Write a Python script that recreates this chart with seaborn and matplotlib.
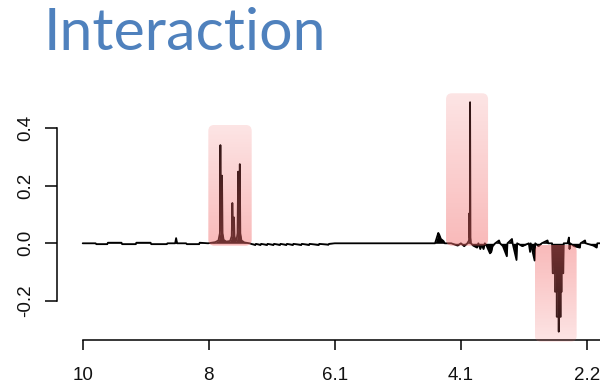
import numpy as np
import pandas as pd
import matplotlib
matplotlib.use("Agg")
import matplotlib.pyplot as plt
from matplotlib.patches import FancyBboxPatch
import seaborn as sns

# ---------------- data ----------------
title = "Interaction"

ppm = [
    10.00, 9.80, 9.79, 9.62, 9.61, 9.40, 9.39, 9.18, 9.17, 8.95, 8.94, 8.70,
    8.69, 8.57, 8.555, 8.54, 8.40, 8.39, 8.20, 8.19, 8.06,
    7.95, 7.90, 7.878, 7.870, 7.862, 7.853, 7.845, 7.837, 7.82, 7.78, 7.72,
    7.695, 7.685, 7.675, 7.668, 7.660, 7.652, 7.635, 7.62, 7.605, 7.595,
    7.585, 7.578, 7.570, 7.562, 7.545, 7.50, 7.42,
    7.38, 7.33, 7.32, 7.25, 7.24, 7.15, 7.14, 7.05, 7.04, 6.95, 6.94, 6.85,
    6.84, 6.75, 6.74, 6.62, 6.61, 6.50, 6.49, 6.35, 6.34, 6.20, 6.19, 6.10,
    5.50, 4.80, 4.55, 4.50, 4.485, 4.46, 4.42, 4.40,
    4.30, 4.20, 4.15, 4.10, 4.05, 4.025, 4.020, 4.012, 4.008, 4.002, 3.995,
    3.96, 3.90, 3.88, 3.85, 3.83, 3.80, 3.78, 3.75,
    3.73, 3.70, 3.68, 3.66, 3.62, 3.56, 3.545, 3.50, 3.44, 3.43, 3.36, 3.35,
    3.29, 3.28, 3.20, 3.10, 3.08, 3.07, 3.01, 3.00,
    2.95, 2.90, 2.81, 2.80, 2.74, 2.730, 2.695, 2.695, 2.668, 2.668, 2.640,
    2.637, 2.634, 2.606, 2.606, 2.591, 2.591, 2.566, 2.56,
    2.50, 2.48, 2.47, 2.46, 2.40, 2.31, 2.30, 2.23, 2.22, 2.10, 2.05, 2.04,
    2.00,
]
intensity = [
    0.000, 0.000, -0.003, -0.003, 0.002, 0.002, -0.003, -0.003, 0.002, 0.002,
    -0.003, -0.003, 0.000, 0.000, 0.018, 0.000, 0.000, -0.003, -0.003, 0.002,
    0.000,
    0.004, 0.010, 0.035, 0.341, 0.045, 0.045, 0.235, 0.035, 0.012, 0.006,
    0.008, 0.025, 0.140, 0.045, 0.045, 0.090, 0.025, 0.008, 0.012, 0.035,
    0.249, 0.055, 0.055, 0.275, 0.035, 0.010, 0.003, 0.000,
    -0.003, -0.006, -0.002, -0.006, -0.002, -0.006, -0.002, -0.006, -0.002,
    -0.006, -0.002, -0.006, -0.002, -0.006, -0.002, -0.006, -0.002, -0.006,
    -0.002, -0.006, -0.002, -0.005, -0.002, 0.000,
    0.000, 0.000, 0.000, 0.036, 0.030, 0.015, 0.008, 0.000,
    0.000, -0.008, 0.000, -0.010, 0.000, 0.010, 0.104, 0.020, 0.490, 0.020,
    0.000,
    -0.008, -0.015, 0.000, -0.020, -0.005, -0.020, 0.000, -0.010,
    -0.020, -0.035, -0.030, -0.010, 0.000, 0.010, 0.000, -0.010, -0.045,
    0.000, 0.015, 0.000, -0.058, 0.000, -0.010, 0.000, -0.030, 0.000,
    -0.060, 0.000,
    -0.010, 0.000, 0.010, 0.000, 0.000, -0.104, -0.104, -0.168, -0.168,
    -0.255, -0.255, -0.307, -0.255, -0.255, -0.168, -0.168, -0.104, -0.104,
    0.000,
    0.000, 0.020, -0.020, 0.000, -0.010, -0.015, 0.000, 0.010, 0.000,
    -0.008, -0.015, 0.000, 0.000,
]

xtick_pos = [10.0, 8.05, 6.1, 4.15, 2.2]
xtick_labels = ["10", "8", "6.1", "4.1", "2.2"]
ytick_vals = [-0.2, 0.0, 0.2, 0.4]
ytick_labels = ["-0.2", "0.0", "0.2", "0.4"]

# highlighted regions: (ppm start, ppm end, intensity from, intensity to)
highlights = [
    (8.057, 7.386, -0.008, 0.411),
    (4.380, 3.730, -0.008, 0.521),
    (3.004, 2.360, -0.006, -0.342),
]

# ---------------- figure ----------------
sns.set_style("ticks")
plt.rcParams["font.family"] = ["Liberation Sans", "DejaVu Sans"]

W, H = 600, 390
fig = plt.figure(figsize=(W / 100, H / 100), dpi=100)
ax = fig.add_axes([57 / W, 0.1177, 543 / W, 0.6646])

df = pd.DataFrame({"ppm": ppm, "intensity": intensity})
ax.fill_between(df["ppm"], df["intensity"], 0, color="black", lw=0, zorder=2)
sns.lineplot(data=df, x="ppm", y="intensity", sort=False, estimator=None,
             color="black", lw=1.3, ax=ax, zorder=2)

xlim = (10.3975, 1.9985)
ylim = (-0.35, 0.55)

# gradient highlight boxes with rounded corners
px_per_x = 543 / (xlim[0] - xlim[1])
px_per_y = (0.6646 * H) / (ylim[1] - ylim[0])
aspect = px_per_x / px_per_y
rad_px = 6
pink = np.array([0.95, 0.42, 0.42])
for (xa, xb, ya, yb) in highlights:
    x0, x1 = min(xa, xb), max(xa, xb)
    y0, y1 = min(ya, yb), max(ya, yb)
    n = 100
    t = np.linspace(0, 1, n)
    if abs(y1) >= abs(y0):   # positive box: bottom is baseline
        alpha = 0.47 - 0.29 * t
    else:                    # negative box: top is baseline
        alpha = 0.18 + 0.29 * t
    img = np.zeros((n, 1, 4))
    img[:, 0, :3] = pink
    img[:, 0, 3] = alpha
    im = ax.imshow(img, extent=(x0, x1, y0, y1), origin="lower",
                   aspect="auto", interpolation="bilinear", zorder=3)
    patch = FancyBboxPatch((x0, y0), x1 - x0, y1 - y0,
                           boxstyle=f"round,pad=0,rounding_size={rad_px / px_per_x}",
                           mutation_aspect=aspect,
                           transform=ax.transData, facecolor="none",
                           edgecolor="none")
    ax.add_patch(patch)
    im.set_clip_path(patch)

ax.set_xlim(*xlim)
ax.set_ylim(*ylim)
ax.set_xlabel("")
ax.set_ylabel("")

for s in ["top", "right"]:
    ax.spines[s].set_visible(False)
ax.spines["left"].set_bounds(-0.2, 0.4)
ax.spines["bottom"].set_position(("data", -0.337))
ax.spines["bottom"].set_bounds(10.0, xlim[1])
for s in ["left", "bottom"]:
    ax.spines[s].set_color("black")
    ax.spines[s].set_linewidth(1.1)

ax.set_xticks(xtick_pos)
ax.set_xticklabels(xtick_labels)
ax.set_yticks(ytick_vals)
ax.set_yticklabels(ytick_labels, rotation=90, va="center")
ax.tick_params(axis="x", bottom=True, direction="out", length=7.5, width=1.1,
               color="black", pad=12, labelsize=13.5, labelcolor="#111111")
ax.tick_params(axis="y", left=True, direction="out", length=8.5, width=1.1,
               color="black", pad=8, labelsize=13.5, labelcolor="#111111")

fig.text(44 / W, 1 - 50 / H, title, color="#4f81bd", fontsize=42.5,
         family=["Lato", "DejaVu Sans"], ha="left", va="baseline")

fig.savefig("out.png", dpi=100)
